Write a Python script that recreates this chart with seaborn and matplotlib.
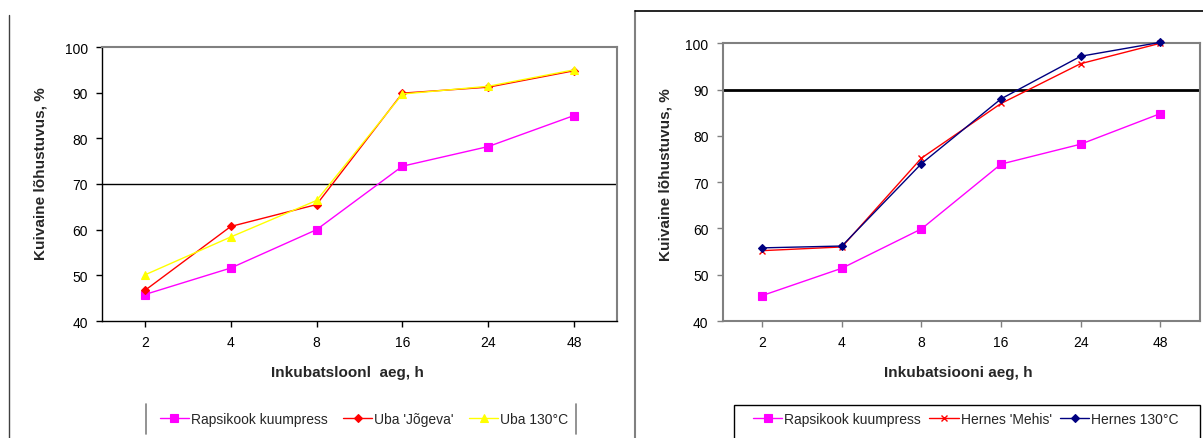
import matplotlib
matplotlib.use("Agg")
import matplotlib.pyplot as plt
from matplotlib.lines import Line2D
from matplotlib.patches import Rectangle
import seaborn as sns
import pandas as pd

# incubation time categories (h)
hours = ["2", "4", "8", "16", "24", "48"]

# left panel: rapeseed cake vs faba bean
rapsikook_left = [45.8, 51.6, 60.0, 73.9, 78.2, 85.0]
uba_jogeva = [46.7, 60.7, 65.5, 89.9, 91.2, 94.8]
uba_130 = [50.1, 58.4, 66.4, 89.7, 91.4, 95.0]

# right panel: rapeseed cake vs pea
rapsikook_right = [45.5, 51.4, 59.9, 73.9, 78.2, 84.8]
hernes_mehis = [55.2, 56.0, 75.2, 87.0, 95.6, 100.0]
hernes_130 = [55.8, 56.2, 74.0, 88.0, 97.2, 100.2]

left_labels = ["Rapsikook kuumpress", "Uba 'Jõgeva'", "Uba 130°C"]
right_labels = ["Rapsikook kuumpress", "Hernes 'Mehis'", "Hernes 130°C"]
y_ticks = [40, 50, 60, 70, 80, 90, 100]
left_ref = 70
right_ref = 90
x_title_left = "Inkubatsloonl  aeg, h"
x_title_right = "Inkubatsiooni aeg, h"
y_title = "Kuivaine lõhustuvus, %"

sns.set_theme(style="white")
plt.rcParams["font.family"] = ["Liberation Sans", "DejaVu Sans"]

W, H = 1203, 439
fig = plt.figure(figsize=(W / 100, H / 100), dpi=100)
fig.patch.set_facecolor("white")


def box(x0, y0, x1, y1):
    return [x0 / W, 1 - y1 / H, (x1 - x0) / W, (y1 - y0) / H]


def frame(df_vals, labels, styles, ax):
    for vals, lab, st in zip(df_vals, labels, styles):
        d = pd.DataFrame({"aeg": hours, "val": vals})
        sns.lineplot(data=d, x="aeg", y="val", sort=False, ax=ax, label=lab,
                     color=st["c"], marker=st["m"], markersize=st["ms"],
                     markeredgecolor=st["c"], markerfacecolor=st["c"],
                     markeredgewidth=st.get("mew", 0.8), linewidth=1.0,
                     clip_on=False, zorder=st.get("z", 3))


styles_left = [
    dict(c="#FF00FF", m="s", ms=5.5),
    dict(c="#FF0000", m="D", ms=3.8),
    dict(c="#FFFF00", m="^", ms=5.5, z=4),
]
styles_right = [
    dict(c="#FF00FF", m="s", ms=5.5),
    dict(c="#FF0000", m="x", ms=5, mew=1.0),
    dict(c="#000080", m="D", ms=4.2, z=4),
]

axL = fig.add_axes(box(102, 48, 617, 322))
axR = fig.add_axes(box(722.5, 44.3, 1200, 322))

frame([rapsikook_left, uba_jogeva, uba_130], left_labels, styles_left, axL)
frame([rapsikook_right, hernes_mehis, hernes_130], right_labels, styles_right, axR)

axL.axhline(left_ref, color="black", lw=1.0, zorder=2)
axR.axhline(right_ref, color="black", lw=2.0, zorder=2)

for ax, spine_col, tick_col, sw in [(axL, "black", "black", 1.0), (axR, "#808080", "#808080", 1.5)]:
    ax.set_xlim(-0.5, len(hours) - 0.5)
    ax.set_ylim(40, 100)
    ax.set_yticks(y_ticks)
    ax.set_facecolor("white")
    ax.grid(False)
    ax.tick_params(axis="both", direction="out", bottom=True, left=True,
                   length=4, width=1, pad=6, labelsize=10, colors="black")
    ax.tick_params(axis="both", color=tick_col)
    for s in ["left", "bottom"]:
        ax.spines[s].set_color(spine_col)
        ax.spines[s].set_linewidth(sw)
    for s in ["top", "right"]:
        ax.spines[s].set_color("#808080")
        ax.spines[s].set_linewidth(1.5)
    ax.get_legend().remove()

axL.set_xlabel(x_title_left, fontsize=11, fontweight="bold")
axR.set_xlabel(x_title_right, fontsize=11, fontweight="bold")
for ax in (axL, axR):
    ax.set_ylabel(y_title, fontsize=11, fontweight="bold")
    ax.xaxis.label.set_va("center")
    ax.yaxis.label.set_va("center")

axL.xaxis.set_label_coords((347 - 102) / 515, (322 - 373) / 274)
axL.yaxis.set_label_coords((41 - 102) / 515, (322 - 174) / 274)
axR.xaxis.set_label_coords((958 - 722.5) / 477.5, (322 - 373) / 277.7)
axR.yaxis.set_label_coords((666 - 722.5) / 477.5, (322 - 175) / 277.7)

# legends below each panel
hL, lL = axL.get_legend_handles_labels()
fig.legend(hL, lL, loc="center", bbox_to_anchor=(364 / W, 1 - 420 / H), ncol=3,
           frameon=False, fontsize=10, handlelength=2.1, handletextpad=0.15,
           columnspacing=1.1, borderaxespad=0)
hR, lR = axR.get_legend_handles_labels()
fig.legend(hR, lR, loc="center", bbox_to_anchor=(966 / W, 1 - 420 / H), ncol=3,
           frameon=False, fontsize=10, handlelength=2.1, handletextpad=0.15,
           columnspacing=0.6, borderaxespad=0)

# chart frames
for x in (146, 576):
    fig.add_artist(Line2D([x / W, x / W], [1 - 405 / H, 1 - 435 / H], color="#808080", lw=1.2))
fig.add_artist(Rectangle((734 / W, 1 - 445 / H), (1200 - 734) / W, (445 - 406) / H,
                         transform=fig.transFigure, fill=False, edgecolor="black", lw=1.0))
fig.add_artist(Line2D([9 / W, 9 / W], [1 - 16 / H, 0], color="#404040", lw=1.0))
fig.add_artist(Line2D([635 / W, 635 / W], [1 - 12 / H, 0], color="#808080", lw=1.5))
fig.add_artist(Line2D([635 / W, 1], [1 - 12 / H, 1 - 12 / H], color="black", lw=1.2))

fig.savefig("out.png", dpi=100, facecolor="white")
